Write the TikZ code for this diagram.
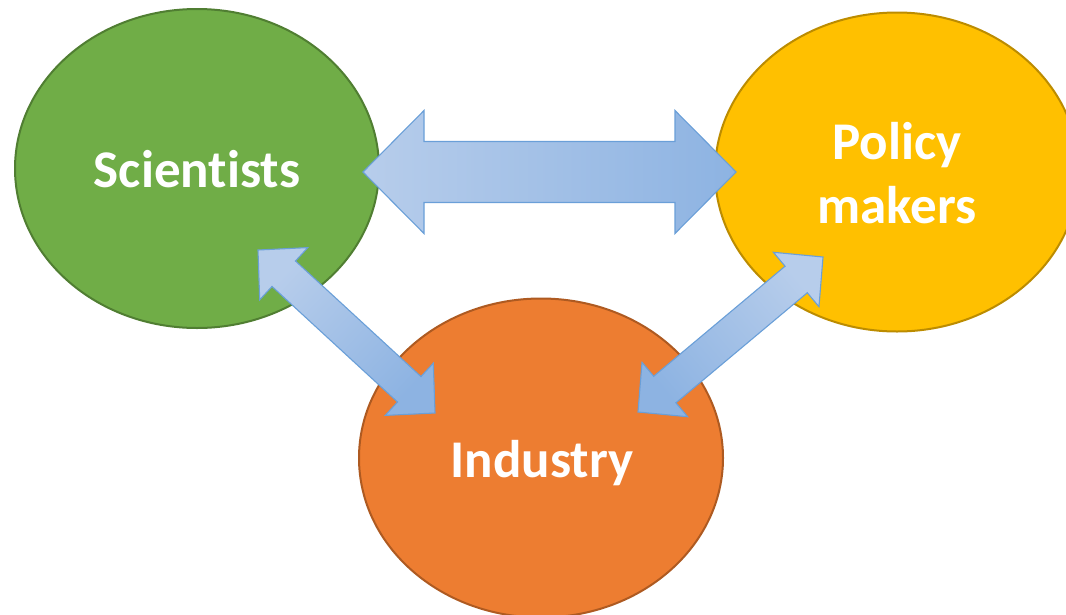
\documentclass[tikz,border=0pt]{standalone}
\usepackage{fontspec}
\setmainfont[Ligatures=NoCommon]{Carlito}
\usetikzlibrary{shapes.geometric,calc}
\definecolor{scifill}{HTML}{70AD47}
\definecolor{scidraw}{HTML}{507E32}
\definecolor{polfill}{HTML}{FFC000}
\definecolor{poldraw}{HTML}{BC8C00}
\definecolor{indfill}{HTML}{ED7D31}
\definecolor{inddraw}{HTML}{AE5A21}
\definecolor{arrlight}{HTML}{B7CDEB}
\definecolor{arrdark}{HTML}{8DB3E2}
\definecolor{arrdraw}{HTML}{6A9FD8}
\tikzset{
  bubble/.style={ellipse, minimum width=364pt, minimum height=319pt, inner sep=0pt,
    line width=2pt},
  bubbletext/.style={text=white, align=center, inner sep=0pt,
    font=\bfseries\fontsize{53}{64}\selectfont},
  blockarrow/.style={draw=arrdraw, line width=1.1pt, line join=miter,
    top color=arrlight, bottom color=arrdark}
}
\newcommand\dblblock[6]{%
  \path[blockarrow,#1] (#2)
   -- ($(#2)!#4!(#3)!#5!90:(#3)$)
   -- ($(#2)!#4!(#3)!#6!90:(#3)$)
   -- ($(#3)!#4!(#2)!#6!-90:(#2)$)
   -- ($(#3)!#4!(#2)!#5!-90:(#2)$)
   -- (#3)
   -- ($(#3)!#4!(#2)!#5!90:(#2)$)
   -- ($(#3)!#4!(#2)!#6!90:(#2)$)
   -- ($(#2)!#4!(#3)!#6!-90:(#3)$)
   -- ($(#2)!#4!(#3)!#5!-90:(#3)$)
   -- cycle;}
\begin{document}
\begin{tikzpicture}[x=1pt,y=-1pt]
\useasboundingbox (0,0) rectangle (1066,614);
\clip (0,0) rectangle (1066,614);
\fill[white] (0,0) rectangle (1066,614);
\node[bubble, fill=scifill, draw=scidraw] (sci) at (197,168.5) {};
\node[bubble, fill=polfill, draw=poldraw] (pol) at (897,172) {};
\node[bubble, fill=indfill, draw=inddraw] (ind) at (541,458) {};
\node[bubbletext, anchor=base] (sciT) at (197,187) {Scientists};
\node[bubbletext, anchor=base] (polT1) at (897,159) {Policy};
\node[bubbletext, anchor=base] (polT2) at (897,223) {makers};
\node[bubbletext, anchor=base] (indT) at (542,477) {Industry};
% arrow end points
\coordinate (sciE) at (363,172);
\coordinate (polW) at (736,172);
\coordinate (sciS) at (258,250);
\coordinate (indNW) at (435,413);
\coordinate (polSW) at (823,257);
\coordinate (indNE) at (638,412);
\dblblock{shading angle=90}{sciE}{polW}{61pt}{61.5pt}{30.5pt}
\dblblock{shading angle=47}{sciS}{indNW}{35pt}{35.5pt}{17.3pt}
\dblblock{shading angle=-50}{polSW}{indNE}{35pt}{35.5pt}{17.3pt}
\end{tikzpicture}
\end{document}
